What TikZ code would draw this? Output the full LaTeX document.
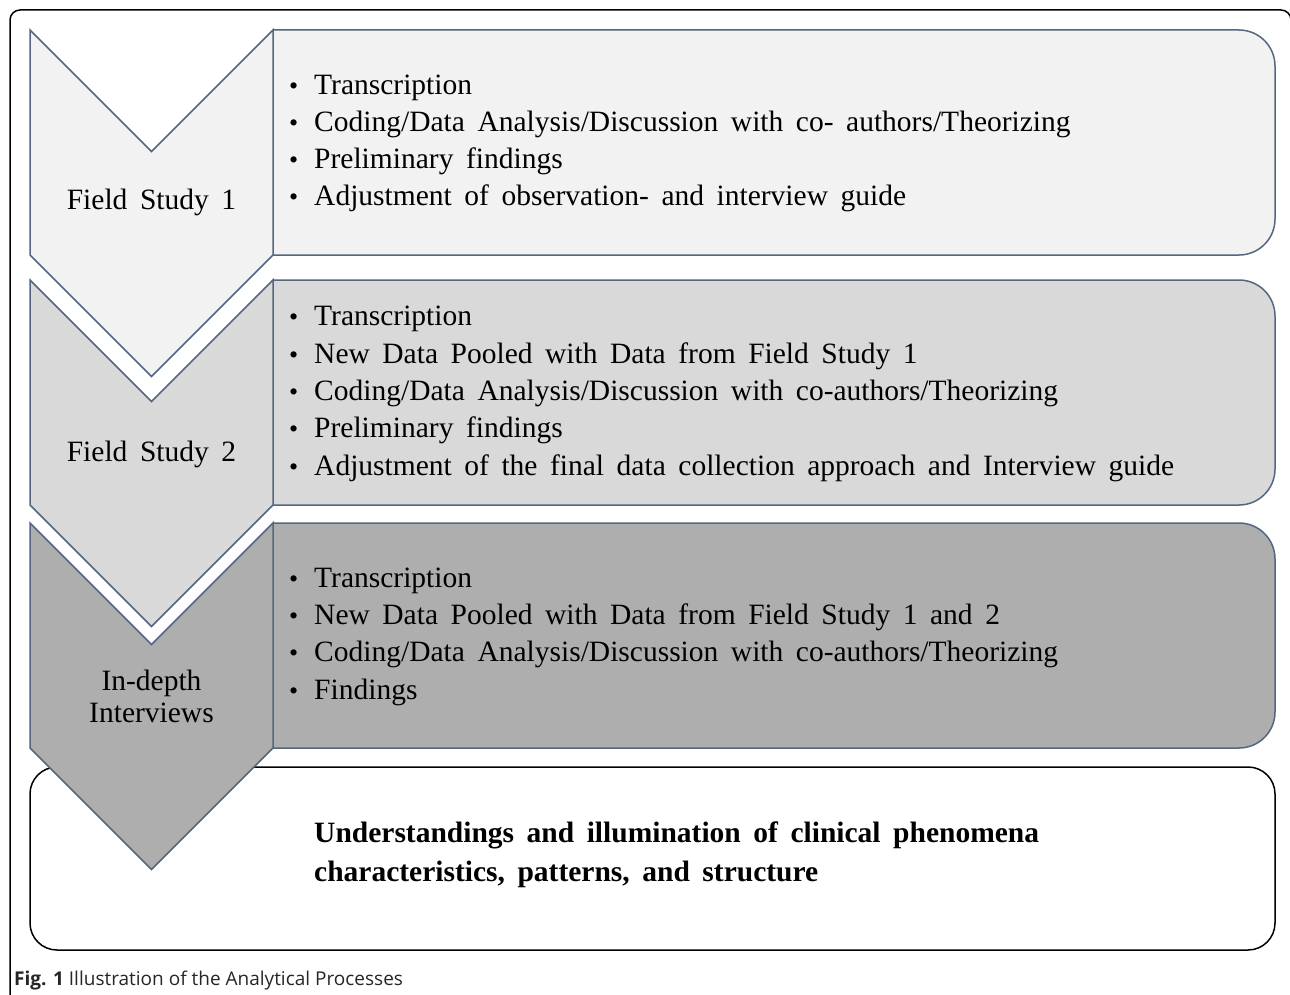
\documentclass[tikz,border=0pt]{standalone}
\usepackage{fontspec}
\setmainfont{Liberation Serif}[WordSpace=1.7]
\newfontfamily\capfont{Open Sans}
\definecolor{edge}{RGB}{84,102,128}
\definecolor{fillA}{RGB}{242,242,242}
\definecolor{fillB}{RGB}{217,217,217}
\definecolor{fillC}{RGB}{174,174,174}
\newcommand{\bul}{\makebox[28pt][l]{\hspace{3pt}{\fontsize{26}{26}\selectfont\textbullet}}}
\newcommand{\chevron}[3]{\draw[edge, line width=1.5pt, fill=#3] (30,#1) -- (151.5,#1+121.5) -- (273,#1) -- (273,#2) -- (151.5,#2+121.5) -- (30,#2) -- cycle;}
\newcommand{\stagebox}[3]{\draw[edge, line width=1.5pt, fill=#3, rounded corners=36pt] (273,#1) -- (1275,#1) -- (1275,#2) -- (273,#2);}
\tikzset{>=stealth}

\begin{document}
\begin{tikzpicture}[x=1pt, y=-1pt,
  items/.style={anchor=base west, inner sep=0, align=left, font=\fontsize{29.5}{37.3}\selectfont},
  stagename/.style={anchor=center, inner sep=0, align=center, font=\fontsize{29.5}{32}\selectfont}]
\useasboundingbox (0,0) rectangle (1290,995);
\draw[line width=1.5pt, rounded corners=10pt] (10,998) -- (10,10) -- (1291,10) -- (1291,998);
\draw[line width=1.5pt, rounded corners=27pt, fill=white] (30,767) rectangle (1275,950);
\stagebox{30}{255}{fillA}
\stagebox{280}{505}{fillB}
\stagebox{523}{748}{fillC}
\chevron{30}{255}{fillA}
\chevron{280}{505}{fillB}
\chevron{523}{748}{fillC}
\node (fs1) at (151.5,202) [stagename] {Field Study 1};
\node (fs2) at (151.5,454) [stagename] {Field Study 2};
\node (idi) at (151.5,696) [stagename] {In-depth\\Interviews};
\node (list1) at (286,206) [items] {\bul Transcription\\
\bul Coding/Data Analysis/Discussion with co- authors/Theorizing\\
\bul Preliminary findings\\
\bul Adjustment of observation- and interview guide};
\node (list2) at (286,475) [items] {\bul Transcription\\
\bul New Data Pooled with Data from Field Study 1\\
\bul Coding/Data Analysis/Discussion with co-authors/Theorizing\\
\bul Preliminary findings\\
\bul Adjustment of the final data collection approach and Interview guide};
\node (list3) at (286,699) [items] {\bul Transcription\\
\bul New Data Pooled with Data from Field Study 1 and 2\\
\bul Coding/Data Analysis/Discussion with co-authors/Theorizing\\
\bul Findings};
\node (result) at (314,881) [anchor=base west, inner sep=0, align=left, font=\fontsize{29.5}{39}\selectfont\bfseries] {Understandings and illumination of clinical phenomena\\
characteristics, patterns, and structure};
\node (caption) at (14,985) [anchor=base west, inner sep=0, font=\capfont\fontsize{19}{22}\selectfont, text=black!85] {\textbf{Fig. 1} Illustration of the Analytical Processes};
\end{tikzpicture}
\end{document}
